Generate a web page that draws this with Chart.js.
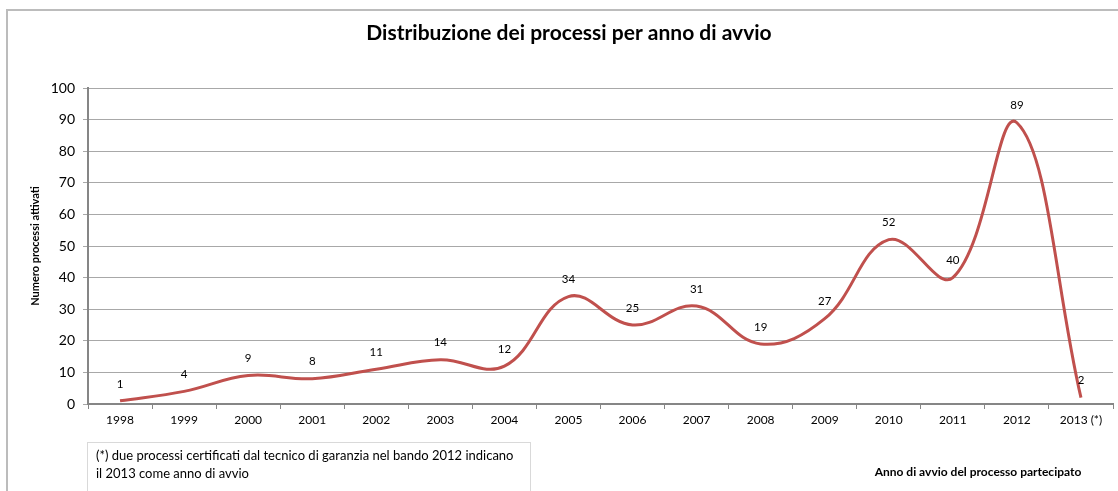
<!DOCTYPE html>
<html>
<head>
<meta charset="utf-8">
<script src="https://cdn.jsdelivr.net/npm/chart.js@4/dist/chart.umd.min.js"></script>
<style>
  html, body { margin: 0; padding: 0; background: #fff; }
  #wrap { width: 1118px; height: 491px; position: relative; }
</style>
</head>
<body>
<div id="wrap"><canvas id="canvas"></canvas></div>
<script>
var anni = ["1998", "1999", "2000", "2001", "2002", "2003", "2004", "2005",
            "2006", "2007", "2008", "2009", "2010", "2011", "2012", "2013 (*)"];
var processi = [1, 4, 9, 8, 11, 14, 12, 34, 25, 31, 19, 27, 52, 40, 89, 2];
var yTicks = [0, 10, 20, 30, 40, 50, 60, 70, 80, 90, 100];

var titolo = "Distribuzione dei processi per anno di avvio";
var titoloY = "Numero processi attivati";
var titoloX = "Anno di avvio del processo partecipato";
var nota = ["(*) due processi certificati dal tecnico di garanzia nel bando 2012 indicano",
            "il 2013 come anno di avvio"];

var FONT = "Lato, 'Liberation Sans', sans-serif";

// cornice, titoli, nota e valori sopra la linea
var decorazioni = {
    id: 'decorazioni',
    beforeDraw: function(chart) {
        var ctx = chart.ctx;
        ctx.save();
        ctx.fillStyle = '#fff';
        ctx.fillRect(0, 0, chart.width, chart.height);
        ctx.strokeStyle = '#bcbcbc';
        ctx.lineWidth = 2;
        ctx.strokeRect(7, 10, chart.width + 20, chart.height + 20);
        ctx.restore();
    },
    afterDatasetsDraw: function(chart) {
        var ctx = chart.ctx;
        ctx.save();
        ctx.fillStyle = '#000';
        ctx.textAlign = 'center';
        ctx.textBaseline = 'middle';
        ctx.font = "bold 21px " + FONT;
        ctx.fillText(titolo, 569, 33);

        ctx.font = "bold 11px " + FONT;
        ctx.save();
        ctx.translate(35, 246);
        ctx.rotate(-Math.PI / 2);
        ctx.fillText(titoloY, 0, 0);
        ctx.restore();

        ctx.font = "bold 12px " + FONT;
        ctx.fillText(titoloX, 978, 472);

        // valori
        ctx.font = "11.5px " + FONT;
        var meta = chart.getDatasetMeta(0);
        meta.data.forEach(function(pt, i) {
            ctx.fillText(String(processi[i]), pt.x, pt.y - 17);
        });

        // nota
        ctx.strokeStyle = '#d9d9d9';
        ctx.lineWidth = 1;
        ctx.strokeRect(87.5, 442.5, 443, 50);
        ctx.textAlign = 'left';
        ctx.font = "13px " + FONT;
        ctx.fillText(nota[0], 96, 456);
        ctx.fillText(nota[1], 96, 474);
        ctx.restore();
    }
};

var config = {
    type: 'line',
    data: {
        labels: anni,
        datasets: [{
            label: 'Processi',
            data: processi,
            borderColor: 'rgb(192, 80, 77)',
            borderWidth: 3,
            pointRadius: 0,
            fill: false,
            tension: 0.4
        }]
    },
    options: {
        responsive: true,
        maintainAspectRatio: false,
        animation: false,
        layout: { padding: { top: 88, right: 5, left: 0, bottom: 0 } },
        plugins: {
            legend: { display: false },
            tooltip: { enabled: false }
        },
        scales: {
            x: {
                offset: true,
                grid: {
                    offset: true,
                    drawOnChartArea: false,
                    drawTicks: true,
                    tickLength: 5,
                    color: '#868686'
                },
                border: { color: '#868686', width: 2 },
                ticks: {
                    color: '#000',
                    font: { family: FONT, size: 12 },
                    padding: 4,
                    maxRotation: 0,
                    autoSkip: false
                },
                afterFit: function(scale) { scale.height = 87; }
            },
            y: {
                min: 0,
                max: 100,
                afterBuildTicks: function(scale) {
                    scale.ticks = yTicks.map(function(v) { return { value: v }; });
                },
                grid: {
                    color: '#a8a8a8',
                    lineWidth: 1,
                    tickLength: 5
                },
                border: { color: '#868686', width: 2 },
                ticks: {
                    color: '#000',
                    font: { family: FONT, size: 14 },
                    padding: 8
                },
                afterFit: function(scale) { scale.width = 88; }
            }
        }
    },
    plugins: [decorazioni]
};

var grafico = new Chart(document.getElementById('canvas'), config);
</script>
</body>
</html>
